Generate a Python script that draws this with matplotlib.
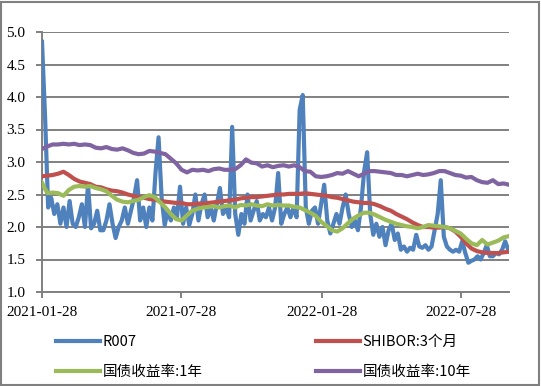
import numpy as np
import pandas as pd
import matplotlib
matplotlib.use("Agg")
import matplotlib.pyplot as plt
from matplotlib.patches import Rectangle

# R007, sampled every 4 days from 2021-01-28
r007 = [4.85, 3.70, 2.30, 2.45, 2.20, 2.35, 2.05, 2.30, 2.00, 2.40,
        2.05, 2.00, 2.15, 2.35, 2.00, 2.65, 1.98, 2.05, 2.25, 1.95,
        1.95, 2.10, 2.35, 2.05, 1.83, 2.00, 2.10, 2.30, 2.05, 2.25,
        2.45, 2.72, 2.10, 2.30, 2.00, 2.30, 2.10, 2.83, 3.38, 2.45,
        2.03, 2.25, 2.10, 2.30, 2.15, 2.62, 2.05, 2.30, 2.03, 2.20,
        2.50, 2.10, 2.35, 2.50, 2.15, 2.30, 2.10, 2.35, 2.60, 2.20,
        2.30, 2.15, 3.54, 2.20, 1.88, 2.20, 2.05, 2.50, 2.10, 2.25,
        2.40, 2.10, 2.20, 2.15, 2.30, 2.10, 2.30, 2.83, 2.05, 2.20,
        2.30, 2.15, 2.30, 2.15, 3.80, 4.03, 2.30, 2.05, 2.25, 2.30,
        2.05, 2.35, 2.65, 2.10, 1.90, 2.05, 2.20, 2.05, 2.30, 2.50,
        2.20, 2.00, 2.10, 1.95, 2.30, 2.85, 3.15, 2.20, 1.88, 2.05,
        1.85, 2.00, 1.72, 1.95, 2.05, 1.80, 1.90, 1.65, 1.70, 1.62,
        1.68, 1.65, 1.88, 1.70, 1.68, 1.72, 1.65, 1.70, 1.95, 2.20,
        2.72, 1.85, 1.70, 1.65, 1.62, 1.65, 1.62, 1.78, 1.60, 1.45,
        1.48, 1.50, 1.55, 1.50, 1.60, 1.72, 1.55, 1.55, 1.60, 1.58,
        1.65, 1.78, 1.65]

# weekly series from 2021-01-28
shibor_3m = [2.78, 2.79, 2.80, 2.82, 2.85, 2.80, 2.74, 2.70, 2.68, 2.66,
             2.62, 2.61, 2.58, 2.56, 2.55, 2.53, 2.50, 2.48, 2.46, 2.45,
             2.43, 2.42, 2.40, 2.39, 2.38, 2.37, 2.37, 2.35, 2.35, 2.36,
             2.36, 2.37, 2.38, 2.39, 2.40, 2.41, 2.42, 2.44, 2.45, 2.46,
             2.46, 2.47, 2.48, 2.49, 2.50, 2.50, 2.51, 2.51, 2.51, 2.52,
             2.51, 2.50, 2.49, 2.48, 2.46, 2.45, 2.43, 2.41, 2.39, 2.38,
             2.37, 2.37, 2.35, 2.32, 2.28, 2.25, 2.20, 2.16, 2.12, 2.07,
             2.03, 2.00, 2.00, 1.99, 1.99, 2.00, 1.98, 1.93, 1.85, 1.75,
             1.67, 1.63, 1.61, 1.60, 1.60, 1.60, 1.61, 1.62]

gov_1y = [2.68, 2.52, 2.53, 2.52, 2.48, 2.57, 2.62, 2.63, 2.62, 2.63,
          2.60, 2.58, 2.55, 2.48, 2.42, 2.39, 2.38, 2.40, 2.42, 2.46,
          2.49, 2.46, 2.38, 2.30, 2.20, 2.12, 2.10, 2.18, 2.25, 2.28,
          2.30, 2.31, 2.32, 2.30, 2.32, 2.33, 2.30, 2.34, 2.33, 2.35,
          2.33, 2.32, 2.35, 2.33, 2.34, 2.33, 2.33, 2.31, 2.30, 2.26,
          2.22, 2.17, 2.08, 2.02, 1.95, 1.93, 1.98, 2.06, 2.13, 2.18,
          2.22, 2.22, 2.19, 2.15, 2.11, 2.08, 2.05, 2.03, 2.01, 2.00,
          1.98, 2.00, 2.03, 2.02, 2.01, 2.00, 1.98, 1.94, 1.90, 1.82,
          1.75, 1.72, 1.80, 1.73, 1.76, 1.79, 1.84, 1.86]

gov_10y = [3.20, 3.24, 3.27, 3.27, 3.28, 3.27, 3.28, 3.26, 3.27, 3.26,
           3.22, 3.21, 3.23, 3.20, 3.19, 3.21, 3.18, 3.14, 3.12, 3.13,
           3.17, 3.16, 3.14, 3.12, 3.05, 2.98, 2.88, 2.84, 2.88, 2.87,
           2.88, 2.86, 2.89, 2.90, 2.88, 2.88, 2.89, 2.95, 3.04, 2.99,
           2.98, 2.93, 2.95, 2.92, 2.94, 2.95, 2.93, 2.95, 2.92, 2.86,
           2.85, 2.78, 2.77, 2.78, 2.80, 2.83, 2.82, 2.86, 2.82, 2.78,
           2.82, 2.86, 2.86, 2.85, 2.84, 2.83, 2.80, 2.80, 2.78, 2.80,
           2.82, 2.80, 2.81, 2.83, 2.86, 2.86, 2.83, 2.80, 2.79, 2.76,
           2.77, 2.72, 2.69, 2.68, 2.72, 2.66, 2.67, 2.65]

tick_dates = ["2021-01-28", "2021-07-28", "2022-01-28", "2022-07-28"]

r007_dates = pd.date_range("2021-01-28", periods=len(r007), freq="4D")
week_dates = pd.date_range("2021-01-28", periods=len(shibor_3m), freq="7D")

plt.rcParams["font.family"] = ["Liberation Serif"]

fig = plt.figure(figsize=(5.41, 3.86), dpi=100)
ax = fig.add_axes([42 / 541, 1 - 292 / 386, 467 / 541, 260 / 386])

ax.plot(r007_dates, r007, color="#4F81BD", lw=3.0, label="R007", zorder=3)
ax.plot(week_dates, shibor_3m, color="#C0504D", lw=3.0, label="SHIBOR:3个月", zorder=4)
ax.plot(week_dates, gov_1y, color="#9BBB59", lw=3.0, label="国债收益率:1年", zorder=5)
ax.plot(week_dates, gov_10y, color="#8064A2", lw=3.0, label="国债收益率:10年", zorder=4)

ax.set_ylim(1.0, 5.0)
ax.set_yticks(np.arange(1.0, 5.01, 0.5))
ax.yaxis.set_major_formatter(plt.FormatStrFormatter("%.1f"))
ax.set_xlim(pd.Timestamp("2021-01-28"), pd.Timestamp("2022-09-29"))
ax.set_xticks(pd.to_datetime(tick_dates))
ax.set_xticklabels(tick_dates)

ax.grid(axis="y", color="#808080", lw=1.4)
ax.set_axisbelow(True)
for s in ["top", "right"]:
    ax.spines[s].set_visible(False)
for s in ["left", "bottom"]:
    ax.spines[s].set_color("#808080")
    ax.spines[s].set_linewidth(1.4)
ax.tick_params(axis="both", colors="#808080", length=4, width=1.4, labelsize=11,
               labelcolor="black")
ax.tick_params(axis="y", pad=8)
ax.tick_params(axis="x", pad=6)

h, l = ax.get_legend_handles_labels()
cjk = {"family": ["Noto Sans CJK SC", "DejaVu Sans"], "size": 10.5}
for idx, x0 in [((0, 2), 56), ((1, 3), 316)]:
    fig.legend([h[i] for i in idx], [l[i] for i in idx], loc="upper left",
               bbox_to_anchor=(x0 / 541, 1 - 335 / 386), frameon=False, prop=cjk,
               handlelength=3.0, handletextpad=0.2, labelspacing=1.1,
               borderpad=0, borderaxespad=0)

fig.patches.append(Rectangle((0.002, 0.003), 0.994, 0.993, transform=fig.transFigure,
                             fill=False, edgecolor="#808080", lw=1.5))

fig.savefig("out.png", dpi=100)
